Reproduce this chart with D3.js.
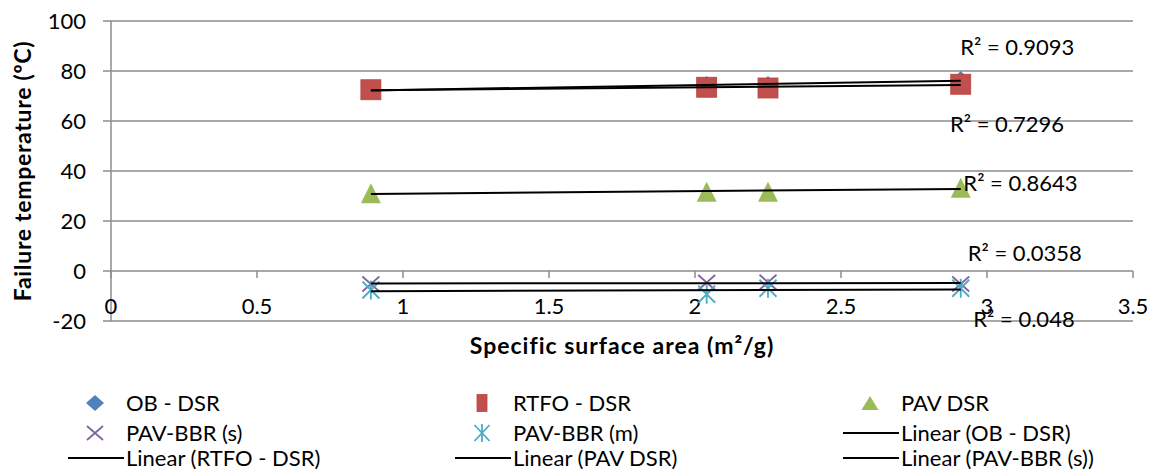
<!DOCTYPE html>
<html><head><meta charset="utf-8">
<script src="https://cdn.jsdelivr.net/npm/d3@7"></script>
<style>
html,body{margin:0;padding:0;background:#fff;}
text{font-family:Lato,"Open Sans",sans-serif;fill:#000;}
</style></head>
<body><svg id="chart" width="1157" height="474"></svg>
<script>
// ---- data ----
const xValues = [0.89, 2.04, 2.25, 2.91];
const obDSR = [72.4, 74.4, 74.4, 76.4];
const rtfoDSR = [72.5, 73.5, 73.2, 74.7];
const pavDSR = [31.1, 31.7, 31.7, 33.3];
const pavBBRs = [-5.2, -4.6, -4.5, -5.2];
const pavBBRm = [-7.6, -9.3, -6.9, -6.9];
const seriesNames = ["OB - DSR", "RTFO - DSR", "PAV DSR", "PAV-BBR (s)", "PAV-BBR (m)"];
const trendNames = ["Linear (OB - DSR)", "Linear (RTFO - DSR)", "Linear (PAV DSR)", "Linear (PAV-BBR (s))"];
const r2Labels = ["R² = 0.9093", "R² = 0.7296", "R² = 0.8643", "R² = 0.0358", "R² = 0.048"];
const xTicks = [0, 0.5, 1, 1.5, 2, 2.5, 3, 3.5];
const yTicks = [-20, 0, 20, 40, 60, 80, 100];
const xTitle = "Specific surface area (m²/g)";
const yTitle = "Failure temperature (ºC)";

// ---- layout ----
const r2Anchor = [[2.908, 86.4], [2.873, 55.7], [2.919, 32.0], [2.934, 4.1], [2.953, -22.3]];
const colors = ["#4F81BD", "#C0504D", "#9BBB59", "#8064A2", "#4BACC6"];
const markerTypes = ["diamond", "square", "triangle", "x", "asterisk"];
const allSeries = [obDSR, rtfoDSR, pavDSR, pavBBRs, pavBBRm];

const svg = d3.select("#chart");
const x = d3.scaleLinear().domain([0, 3.5]).range([111, 1133]);
const y = d3.scaleLinear().domain([-20, 100]).range([321, 21]);
const grid = "#8c8c8c";

// gridlines
svg.append("g").selectAll("line").data(yTicks).join("line")
  .attr("x1", 103).attr("x2", x(3.5))
  .attr("y1", d => y(d)).attr("y2", d => y(d))
  .attr("stroke", grid).attr("stroke-width", 1.5);
// y axis line
svg.append("line").attr("x1", x(0)).attr("x2", x(0)).attr("y1", y(100)).attr("y2", y(-20))
  .attr("stroke", grid).attr("stroke-width", 1.5);
// x axis ticks at y=0
svg.append("g").selectAll("line").data(xTicks).join("line")
  .attr("x1", d => x(d)).attr("x2", d => x(d))
  .attr("y1", y(0)).attr("y2", y(0) + 7)
  .attr("stroke", grid).attr("stroke-width", 1.5);

// tick labels
svg.append("g").selectAll("text").data(yTicks).join("text")
  .attr("x", 86).attr("y", d => y(d) + 8).attr("text-anchor", "end")
  .style("font-size", "22px").text(d => d);
svg.append("g").selectAll("text").data(xTicks).join("text")
  .attr("x", d => x(d)).attr("y", 314).attr("text-anchor", "middle")
  .style("font-size", "22px").text(d => d);

// axis titles
svg.append("text").attr("x", x(1.75)).attr("y", 354).attr("text-anchor", "middle")
  .style("font-size", "23px").style("font-weight", "bold").style("letter-spacing", "1px").text(xTitle);
svg.append("text").attr("transform", `translate(31,${(y(100) + y(-20)) / 2}) rotate(-90)`)
  .attr("text-anchor", "middle")
  .style("font-size", "23px").style("font-weight", "bold").style("letter-spacing", "0.7px").text(yTitle);

// marker drawing
function marker(g, type, color, w, h) {
  const hw = w / 2, hh = h / 2;
  if (type === "diamond") {
    g.append("path").attr("d", `M0,${-hh}L${hw},0L0,${hh}L${-hw},0Z`).attr("fill", color);
  } else if (type === "square") {
    g.append("rect").attr("x", -hw).attr("y", -hh).attr("width", w).attr("height", h)
      .attr("fill", color).attr("stroke", "#b9413e").attr("stroke-width", 0.8);
  } else if (type === "triangle") {
    g.append("path").attr("d", `M0,${-hh}L${hw},${hh}L${-hw},${hh}Z`).attr("fill", color);
  } else if (type === "x") {
    g.append("path").attr("d", `M${-hw},${-hh}L${hw},${hh}M${hw},${-hh}L${-hw},${hh}`)
      .attr("stroke", color).attr("stroke-width", 1.8).attr("fill", "none");
  } else if (type === "asterisk") {
    g.append("path").attr("d", `M${-hw},${-hh}L${hw},${hh}M${hw},${-hh}L${-hw},${hh}M0,${-hh - 1}L0,${hh + 1}`)
      .attr("stroke", color).attr("stroke-width", 1.8).attr("fill", "none");
  }
}
const plotSizes = [[18, 18], [20, 20], [20, 20], [17, 15], [17, 17]];

allSeries.forEach((vals, si) => {
  const g = svg.append("g");
  vals.forEach((v, i) => {
    const mg = g.append("g").attr("transform", `translate(${x(xValues[i])},${y(v)})`);
    marker(mg, markerTypes[si], colors[si], plotSizes[si][0], plotSizes[si][1]);
  });
});

// linear trendlines (least squares)
function fit(xs, ys) {
  const mx = d3.mean(xs), my = d3.mean(ys);
  let sxy = 0, sxx = 0;
  xs.forEach((xv, i) => { sxy += (xv - mx) * (ys[i] - my); sxx += (xv - mx) ** 2; });
  const b = sxy / sxx;
  return xv => my + b * (xv - mx);
}
const xExt = d3.extent(xValues);
allSeries.forEach(vals => {
  const f = fit(xValues, vals);
  svg.append("line")
    .attr("x1", x(xExt[0])).attr("x2", x(xExt[1]))
    .attr("y1", y(f(xExt[0]))).attr("y2", y(f(xExt[1])))
    .attr("stroke", "#000").attr("stroke-width", 2);
});

// R² labels
svg.append("g").selectAll("text").data(r2Labels).join("text")
  .attr("x", (d, i) => x(r2Anchor[i][0])).attr("y", (d, i) => y(r2Anchor[i][1]))
  .style("font-size", "22px").text(d => d);

// legend
const colX = [68, 455, 843];
const rowY = [403, 433, 458];
const legendItems = [
  {name: seriesNames[0], m: 0}, {name: seriesNames[1], m: 1}, {name: seriesNames[2], m: 2},
  {name: seriesNames[3], m: 3}, {name: seriesNames[4], m: 4}, {name: trendNames[0], m: -1},
  {name: trendNames[1], m: -1}, {name: trendNames[2], m: -1}, {name: trendNames[3], m: -1}
];
const legSizes = [[18, 16], [10, 17], [17, 14], [16, 14], [15, 16]];
legendItems.forEach((it, i) => {
  const cx = colX[i % 3], cy = rowY[Math.floor(i / 3)];
  const g = svg.append("g");
  if (it.m >= 0) {
    const mg = g.append("g").attr("transform", `translate(${cx + 27},${cy})`);
    marker(mg, markerTypes[it.m], colors[it.m], legSizes[it.m][0], legSizes[it.m][1]);
  } else {
    g.append("line").attr("x1", cx).attr("x2", cx + 56).attr("y1", cy).attr("y2", cy)
      .attr("stroke", "#000").attr("stroke-width", 2);
  }
  g.append("text").attr("x", cx + 58).attr("y", cy + 8).style("font-size", "22px").text(it.name);
});
</script>
</body></html>
